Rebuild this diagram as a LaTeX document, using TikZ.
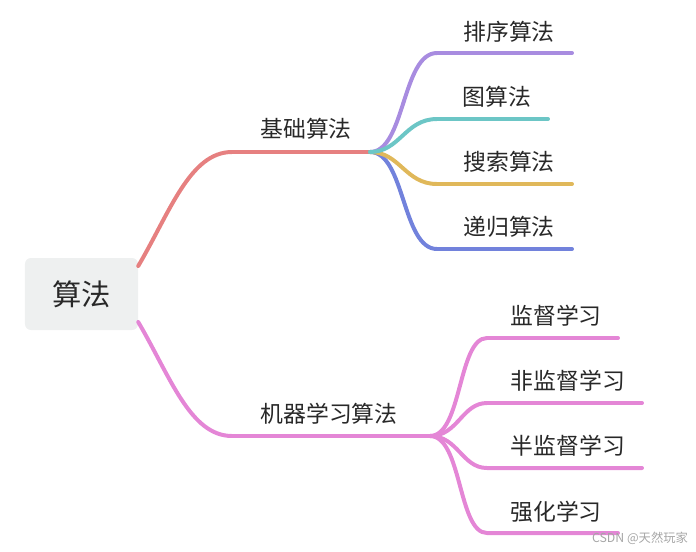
\documentclass[tikz,border=0pt]{standalone}
\usepackage{fontspec}
\setmainfont{Noto Sans CJK SC}
\usepackage{tikz}
\usetikzlibrary{positioning}

\definecolor{rootgray}{RGB}{238,240,240}
\definecolor{txtgray}{RGB}{40,40,40}
\definecolor{redbr}{RGB}{230,128,128}
\definecolor{pinkbr}{RGB}{228,134,214}
\definecolor{purplebr}{RGB}{168,140,224}
\definecolor{tealbr}{RGB}{108,198,198}
\definecolor{yellowbr}{RGB}{224,184,90}
\definecolor{bluebr}{RGB}{114,130,220}

\tikzset{
  branch/.style={line width=3.4pt, line cap=round},
  lbl/.style={text=txtgray, font=\fontsize{19.5}{22}\selectfont, inner sep=0pt},
  rootbox/.style={fill=rootgray, rounded corners=5pt, minimum width=3.39cm,
    minimum height=2.16cm, text=txtgray, font=\fontsize{25}{28}\selectfont}
}

\begin{document}
\begin{tikzpicture}[x=0.03cm, y=-0.03cm]
\useasboundingbox (0,0) rectangle (696,551);

% root
\node[rootbox] (root) at (81.5,294) {算法};

% branch points and line ends
\coordinate (b1s) at (232,152);
\coordinate (b1e) at (370,152);
\coordinate (b2s) at (232,436);
\coordinate (b2e) at (430,436);

\coordinate (sortS) at (437,53);   \coordinate (sortE) at (572,53);
\coordinate (graphS) at (437,119); \coordinate (graphE) at (548,119);
\coordinate (searchS) at (437,184);\coordinate (searchE) at (572,184);
\coordinate (recS) at (437,249);   \coordinate (recE) at (572,249);

\coordinate (supS) at (487,338);   \coordinate (supE) at (618,338);
\coordinate (unsS) at (487,403);   \coordinate (unsE) at (642,403);
\coordinate (semiS) at (487,468);  \coordinate (semiE) at (642,468);
\coordinate (rlS) at (487,533);    \coordinate (rlE) at (618,533);

% main branches
\draw[branch, redbr] (root.east |- 0,266) .. controls (170,212) and (190,152) .. (b1s) -- (b1e);
\draw[branch, pinkbr] (root.east |- 0,322) .. controls (170,376) and (190,436) .. (b2s) -- (b2e);

% sub branches of 基础算法
\draw[branch, purplebr] (b1e) .. controls (405,152) and (402,53) .. (sortS) -- (sortE);
\draw[branch, bluebr] (b1e) .. controls (405,152) and (402,249) .. (recS) -- (recE);
\draw[branch, yellowbr] (b1e) .. controls (400,152) and (405,184) .. (searchS) -- (searchE);
\draw[branch, tealbr] (b1e) .. controls (400,152) and (405,119) .. (graphS) -- (graphE);

% sub branches of 机器学习算法
\draw[branch, pinkbr] (b2e) .. controls (462,436) and (458,338) .. (supS) -- (supE);
\draw[branch, pinkbr] (b2e) .. controls (458,436) and (462,403) .. (unsS) -- (unsE);
\draw[branch, pinkbr] (b2e) .. controls (458,436) and (462,468) .. (semiS) -- (semiE);
\draw[branch, pinkbr] (b2e) .. controls (462,436) and (458,533) .. (rlS) -- (rlE);

% labels
\node[lbl] (basic) at (306,129) {基础算法};
\node[lbl] (ml) at (329,414) {机器学习算法};
\node[lbl] (sort) at (509,32) {排序算法};
\node[lbl] (graph) at (497,97) {图算法};
\node[lbl] (search) at (509,162) {搜索算法};
\node[lbl] (rec) at (509,227) {递归算法};
\node[lbl] (sup) at (556,316) {监督学习};
\node[lbl] (uns) at (568,381) {非监督学习};
\node[lbl] (semi) at (568,446) {半监督学习};
\node[lbl] (rl) at (556,512) {强化学习};

% watermark
\node[text=black!35, font=\fontsize{10.5}{12}\selectfont, inner sep=0pt] (wm) at (640,538) {CSDN @天然玩家};
\end{tikzpicture}
\end{document}
